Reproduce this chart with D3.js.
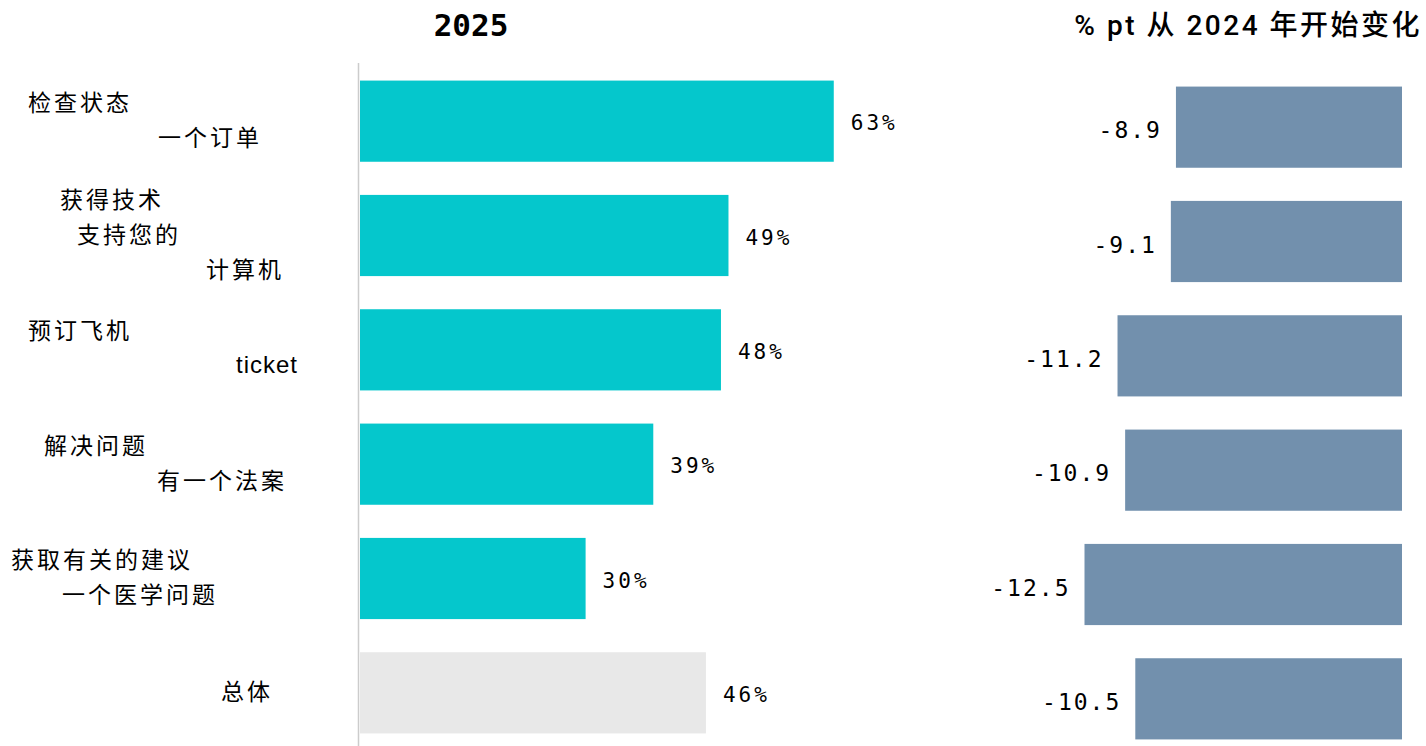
<!DOCTYPE html>
<html>
<head>
<meta charset="utf-8">
<script src="https://cdn.jsdelivr.net/npm/d3@7"></script>
<style>
  body { margin: 0; background: #fff; }
  svg { display: block; }
</style>
</head>
<body>
<svg width="1426" height="746"></svg>
<script>
// data
const categories = ['check', 'support', 'ticket', 'solve', 'medical', 'total'];
const labelLines = [
  ['检查状态', '一个订单'],
  ['获得技术', '支持您的', '计算机'],
  ['预订飞机', 'ticket'],
  ['解决问题', '有一个法案'],
  ['获取有关的建议', '一个医学问题'],
  ['总体']
];
const share2025 = [63, 49, 48, 39, 30, 46];
const change = [-8.9, -9.1, -11.2, -10.9, -12.5, -10.5];

// where each label line starts (the odd staggered wrap of the original)
const lineStart = [
  [28, 158],
  [60, 77, 206],
  [28, 236],
  [44, 157],
  [11, 62],
  [221]
];

const W = 1426, H = 746;
const teal = '#05c7cc', slate = '#7290ad', grey = '#e8e8e8';
const mono = '"DejaVu Sans Mono", "Liberation Mono", monospace';
const cjk = '"Noto Sans CJK SC", "Noto Sans", sans-serif';

const svg = d3.select('svg');

const yL = d3.scaleBand().domain(categories).range([64, 750])
             .paddingInner(0.29).paddingOuter(0.145);
const yR = d3.scaleBand().domain(categories).range([70, 756])
             .paddingInner(0.29).paddingOuter(0.145);
const xL = d3.scaleLinear().domain([0, 100]).range([360, 1112]);
const xR = d3.scaleLinear().domain([0, -14]).range([1402, 1046.4]);

const rows = categories.map((c, i) => ({
  key: c, lines: labelLines[i], starts: lineStart[i],
  v: share2025[i], d: change[i]
}));

// titles
svg.append('text')
   .attr('x', 471).attr('y', 25)
   .attr('text-anchor', 'middle').attr('dominant-baseline', 'central')
   .style('font-family', mono).style('font-weight', 'bold').style('font-size', '31px')
   .text('2025');

svg.append('text')
   .attr('x', 1422).attr('y', 25)
   .attr('text-anchor', 'end').attr('dominant-baseline', 'central')
   .style('font-family', 'Roboto, "Liberation Sans", ' + cjk).style('font-size', '28px')
   .style('font-weight', 500).style('letter-spacing', '2.5px')
   .text('% pt 从 2024 年开始变化');

// left bars
svg.append('g').selectAll('rect')
   .data(rows).enter().append('rect')
   .attr('x', xL(0))
   .attr('y', d => yL(d.key))
   .attr('width', d => xL(d.v) - xL(0))
   .attr('height', yL.bandwidth())
   .attr('fill', d => d.key === 'total' ? grey : teal);

svg.append('g').selectAll('text')
   .data(rows).enter().append('text')
   .attr('x', d => xL(d.v) + 17)
   .attr('y', d => yL(d.key) + yL.bandwidth() / 2 + 2)
   .attr('dominant-baseline', 'central')
   .style('font-family', mono).style('font-size', '21px')
   .style('letter-spacing', '3px')
   .text(d => d.v + '%');

// axis line
svg.append('line')
   .attr('x1', 358.5).attr('x2', 358.5)
   .attr('y1', 63).attr('y2', H)
   .attr('stroke', '#cccccc').attr('stroke-width', 1.5);

// right bars
svg.append('g').selectAll('rect')
   .data(rows).enter().append('rect')
   .attr('x', d => xR(d.d))
   .attr('y', d => yR(d.key))
   .attr('width', d => xR(0) - xR(d.d))
   .attr('height', yR.bandwidth())
   .attr('fill', slate);

svg.append('g').selectAll('text')
   .data(rows).enter().append('text')
   .attr('x', d => xR(d.d) - 14)
   .attr('y', d => yR(d.key) + yR.bandwidth() / 2 + 3)
   .attr('text-anchor', 'end').attr('dominant-baseline', 'central')
   .style('font-family', mono).style('font-size', '23px')
   .style('letter-spacing', '2px')
   .text(d => d.d.toFixed(1));

// category labels
const lab = svg.append('g').selectAll('g')
   .data(rows).enter().append('g');

lab.each(function(d) {
  const n = d.lines.length;
  const mid = yL(d.key) + yL.bandwidth() / 2 - 3;
  const lh = 35;
  d3.select(this).selectAll('text')
    .data(d.lines).enter().append('text')
    .attr('x', (t, j) => d.starts[j])
    .attr('y', (t, j) => mid + (j - (n - 1) / 2) * lh)
    .attr('dominant-baseline', 'central')
    .style('font-family', t => /^[a-z]/.test(t) ? '"Liberation Sans", Arial, sans-serif' : cjk)
    .style('font-size', t => /^[a-z]/.test(t) ? '24px' : '23px')
    .style('letter-spacing', t => /^[a-z]/.test(t) ? '1px' : '3px')
    .text(t => t);
});
</script>
</body>
</html>
